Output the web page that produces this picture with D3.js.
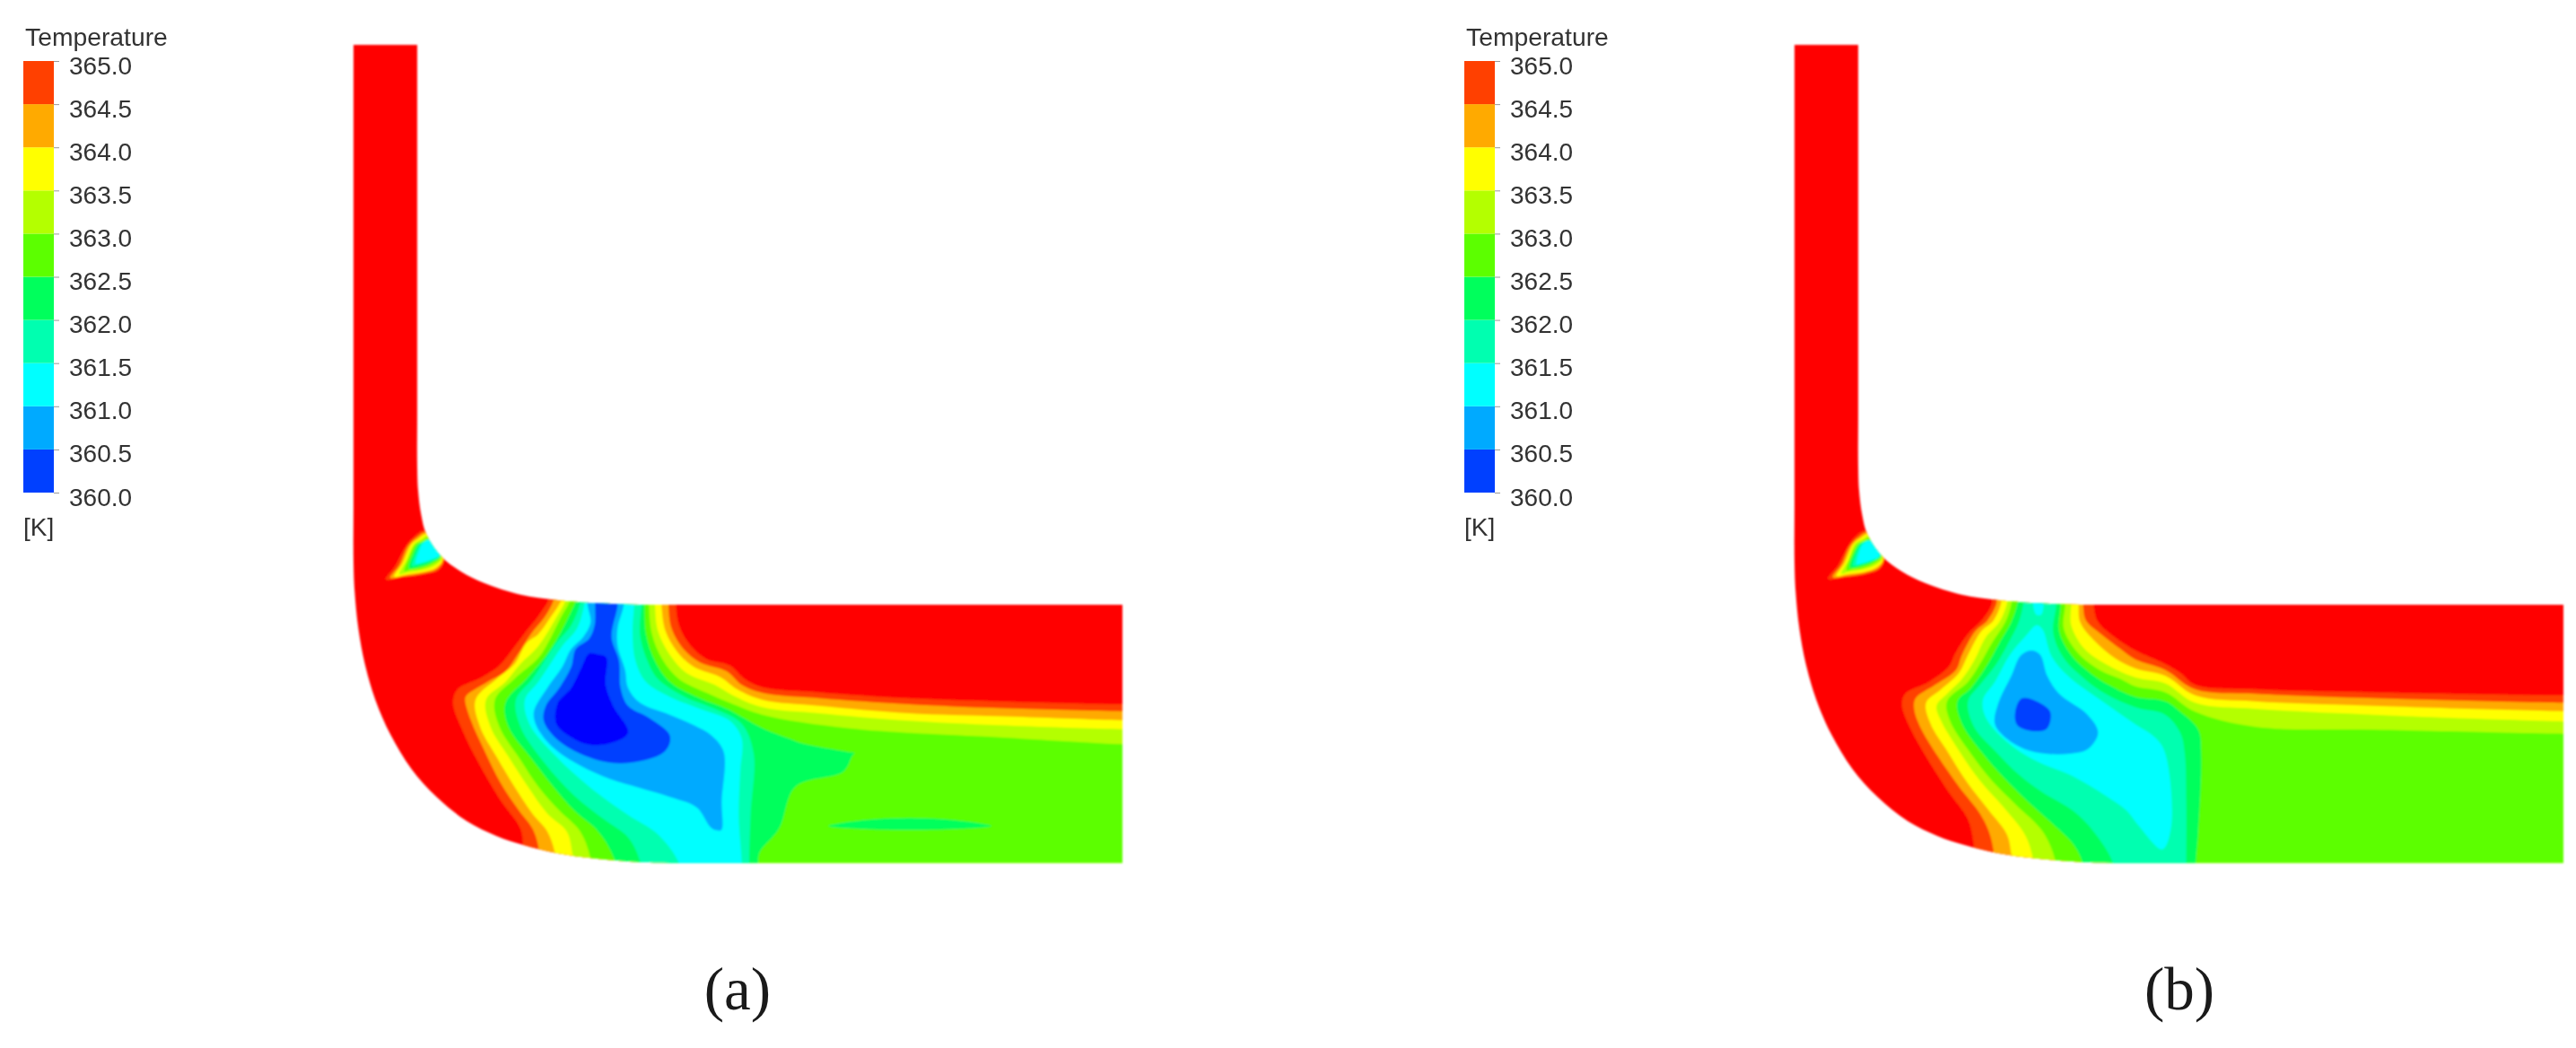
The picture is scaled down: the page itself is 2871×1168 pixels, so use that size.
<!DOCTYPE html>
<html>
<head>
<meta charset="utf-8">
<script src="https://cdnjs.cloudflare.com/ajax/libs/d3/7.8.5/d3.min.js"></script>
<style>
    body { margin: 0; background: #fff; }
    svg { display: block; }
</style>
</head>
<body>
<svg width="2871" height="1168"></svg>
<script>
// legend
var legendTicks = [360, 360.5, 361, 361.5, 362, 362.5, 363, 363.5, 364, 364.5, 365];
var legendColors = ["#0040ff", "#00aaff", "#00ffff", "#00ffb0", "#00ff5c", "#5cff00", "#b4ff00", "#ffff00", "#ffaa00", "#ff4000"];
var hotColor = "#ff0000";
var coldColor = "#0000ff";
var captions = ["(a)", "(b)"];

// duct walls, mesh units
var outerWall = [[42,-1530],[42,0],[42,200],[46,300],[58,420],[80,540],[115,660],[165,775],[235,890],[320,985],[420,1065],[520,1115],[610,1145],[720,1172],[850,1190],[1000,1202],[1130,1205],[1400,1205],[2613,1205]];
var innerWall = [[255,-1530],[255,-300],[255,-120],[258,-40],[268,40],[285,105],[335,180],[400,230],[480,270],[600,308],[720,326],[850,337],[1000,342],[1130,342],[2613,342]];

// case (a): outline of the region below each temperature
var a365 = [[700,300],[695,325],[660,380],[620,430],[575,490],[530,545],[470,585],[390,625],[375,670],[410,770],[460,870],[530,990],[600,1090],[610,1145],[625,1300],[2700,1300],[2700,675],[2613,675],[2200,665],[1900,655],[1600,635],[1410,618],[1350,590],[1300,545],[1225,525],[1170,480],[1130,410],[1120,345],[1120,300]];
var a3645 = [[715,300],[710,330],[680,385],[635,440],[590,510],[550,565],[490,600],[420,645],[415,660],[435,730],[480,830],[535,940],[595,1030],[640,1090],[660,1150],[672,1300],[2700,1300],[2700,698],[2613,698],[2200,688],[1900,675],[1600,655],[1410,637],[1340,610],[1290,565],[1200,535],[1145,490],[1105,420],[1095,345],[1095,300]];
var a364 = [[740,300],[735,330],[700,385],[660,440],[620,470],[580,540],[520,590],[450,660],[465,750],[520,850],[580,950],[640,1040],[690,1100],[715,1170],[730,1300],[2700,1300],[2700,728],[2613,728],[2200,715],[1900,705],[1600,680],[1410,660],[1325,625],[1270,585],[1180,550],[1125,500],[1085,430],[1072,345],[1072,300]];
var a3635 = [[755,300],[750,330],[720,385],[660,480],[600,540],[550,600],[485,660],[500,750],[560,850],[625,950],[690,1040],[755,1100],[775,1180],[790,1300],[2700,1300],[2700,758],[2613,758],[2200,745],[1900,730],[1600,705],[1410,685],[1310,645],[1250,610],[1155,570],[1100,510],[1060,430],[1050,345],[1050,300]];
var a363 = [[770,300],[765,330],[735,385],[700,455],[660,520],[580,590],[515,660],[530,750],[600,860],[660,950],[730,1030],[800,1100],[835,1190],[850,1300],[2700,1300],[2700,808],[2613,808],[2200,785],[1700,755],[1410,710],[1300,670],[1230,640],[1130,590],[1075,525],[1040,440],[1030,345],[1030,300]];
var a3625 = [[790,300],[785,330],[755,395],[720,460],[680,520],[620,590],[550,670],[560,750],[640,860],[710,950],[780,1030],[860,1100],[915,1195],[930,1300],[1395,1300],[1395,1205],[1400,1170],[1465,1090],[1520,950],[1680,900],[1708,850],[1716,838],[1700,835],[1540,805],[1500,790],[1410,755],[1290,690],[1200,655],[1100,600],[1050,530],[1020,440],[1015,345],[1015,300]];
var a3625b = [[1630,1082],[1750,1062],[1900,1055],[2050,1062],[2175,1082],[2050,1092],[1900,1095],[1750,1092]];
var a362 = [[805,300],[800,335],[770,410],[720,470],[680,530],[640,590],[585,660],[600,750],[680,870],[780,980],[880,1060],[960,1120],[1000,1200],[1015,1300],[1365,1300],[1365,1205],[1370,1040],[1380,840],[1340,740],[1250,690],[1150,650],[1060,590],[1025,530],[1000,440],[1005,345],[1005,300]];
var a3615 = [[820,300],[815,335],[790,420],[740,480],[700,540],[660,600],[615,660],[630,740],[720,850],[830,950],[960,1045],[1060,1110],[1130,1205],[1150,1300],[1340,1300],[1340,1205],[1330,1050],[1335,900],[1340,790],[1300,730],[1200,690],[1100,650],[1020,600],[985,530],[975,440],[980,345],[980,300]];
var a361 = [[825,300],[825,345],[835,400],[810,450],[770,490],[740,550],[690,620],[645,700],[655,750],[710,820],[800,880],[900,925],[1000,955],[1100,985],[1190,1020],[1235,1085],[1255,1096],[1272,1095],[1273,1000],[1280,835],[1240,780],[1180,745],[1100,710],[1000,670],[960,620],[950,560],[925,480],[925,420],[945,345],[945,300]];
var a3605 = [[850,300],[850,345],[848,410],[830,455],[785,490],[770,550],[730,620],[685,680],[678,730],[720,790],[800,840],[900,870],[1000,865],[1085,830],[1100,780],[1030,720],[960,680],[935,620],[930,530],[905,450],[925,345],[925,300]];
var a360 = [[830,505],[858,508],[887,518],[885,610],[910,680],[960,770],[900,805],[830,810],[770,785],[720,740],[725,670],[770,620],[805,550]];

// case (a): small pocket at the inner bend
var aSpot365 = [[150,257],[180,215],[215,150],[245,115],[280,95],[345,185],[328,225],[280,240],[210,250]];
var aSpot3645 = [[165,252],[195,210],[225,145],[252,118],[285,100],[342,188],[322,222],[278,236],[210,246]];
var aSpot364 = [[178,248],[205,205],[235,140],[258,122],[290,105],[340,190],[318,218],[275,232],[215,242]];
var aSpot3635 = [[195,240],[218,195],[243,140],[264,126],[295,110],[338,185],[312,212],[272,226],[222,235]];
var aSpot363 = [[212,230],[230,180],[250,140],[270,130],[300,115],[336,180],[308,205],[270,220],[230,226]];
var aSpot3625 = [[228,220],[242,170],[258,140],[275,132],[305,125],[334,178],[304,200],[268,214]];
var aSpot362 = [[238,212],[252,165],[265,140],[282,132],[310,130],[332,176],[300,196],[262,208]];
var aSpot3615 = [[250,205],[262,160],[275,135],[295,125],[330,175],[298,192],[262,203]];

// case (b)
var b365 = [[725,300],[720,340],[690,390],[640,440],[600,500],[575,550],[510,600],[430,640],[420,680],[450,760],[500,850],[570,960],[640,1060],[660,1145],[675,1300],[2700,1300],[2700,645],[2633,645],[2000,635],[1600,625],[1400,610],[1350,570],[1300,540],[1200,495],[1130,450],[1075,400],[1060,345],[1060,300]];
var b3645 = [[740,300],[735,340],[705,395],[665,430],[620,510],[600,560],[530,610],[465,655],[460,690],[480,750],[540,850],[610,950],[680,1040],[710,1100],[725,1160],[740,1300],[2700,1300],[2700,670],[2633,670],[2000,655],[1600,640],[1400,625],[1300,560],[1200,525],[1150,490],[1085,440],[1035,395],[1025,345],[1025,300]];
var b364 = [[755,300],[750,340],[725,395],[685,430],[640,510],[610,570],[550,625],[500,670],[515,740],[570,830],[640,940],[710,1030],[770,1110],[785,1175],[800,1300],[2700,1300],[2700,698],[2633,698],[2000,680],[1600,665],[1400,645],[1300,580],[1200,555],[1130,520],[1060,460],[1015,400],[1010,345],[1010,300]];
var b3635 = [[775,300],[770,340],[745,400],[700,450],[660,530],[620,590],[570,640],[535,680],[550,730],[610,830],[680,930],[760,1020],[830,1110],[855,1180],[870,1300],[2700,1300],[2700,732],[2633,732],[2000,710],[1600,690],[1400,670],[1300,605],[1200,585],[1100,540],[1030,490],[985,410],[985,345],[985,300]];
var b363 = [[790,300],[785,340],[765,400],[720,470],[680,540],[640,600],[570,665],[580,730],[650,840],[720,930],[800,1010],[890,1100],[930,1190],[945,1300],[2700,1300],[2700,773],[2633,773],[2000,760],[1600,750],[1400,700],[1300,635],[1200,615],[1150,590],[1080,560],[1005,500],[960,420],[965,345],[965,300]];
var b3625 = [[810,300],[805,340],[785,400],[745,470],[700,550],[650,620],[605,665],[620,740],[690,840],[760,920],[840,1000],[940,1090],[990,1140],[1020,1195],[1035,1300],[1402,1300],[1402,1205],[1410,1100],[1420,840],[1410,760],[1350,700],[1300,665],[1200,650],[1130,620],[1055,575],[985,510],[945,430],[950,345],[950,300]];
var b362 = [[830,300],[825,340],[810,400],[775,470],[735,540],[680,610],[640,665],[660,750],[730,830],[810,910],[890,970],[990,1030],[1060,1100],[1125,1205],[1140,1300],[1370,1300],[1370,1205],[1370,1000],[1365,840],[1350,770],[1300,710],[1200,685],[1100,640],[1030,590],[960,520],[925,435],[935,345],[935,300]];
var b3615 = [[870,410],[830,450],[780,510],[730,600],[690,660],[700,720],[770,800],[860,860],[990,915],[1100,980],[1170,1030],[1210,1080],[1290,1160],[1320,1080],[1300,840],[1270,790],[1190,735],[1090,665],[980,585],[920,515],[890,425]];
var b3615b = [[860,330],[890,330],[885,375],[868,375]];
var b361 = [[855,495],[882,510],[905,580],[945,640],[1040,710],[1075,770],[1040,825],[980,840],[900,840],[830,825],[770,790],[730,740],[742,670],[785,580],[818,510]];
var b3605 = [[820,655],[870,665],[915,700],[905,755],[860,765],[805,745],[798,700]];

var bSpot365 = [[172,255],[205,212],[238,148],[265,113],[300,95],[360,185],[345,222],[300,240],[232,250]];
var bSpot3645 = [[188,250],[217,208],[247,143],[274,116],[305,100],[358,188],[340,220],[296,236],[232,246]];
var bSpot364 = [[200,246],[227,203],[257,138],[280,120],[310,105],[356,190],[336,216],[293,232],[237,240]];
var bSpot3635 = [[217,238],[240,193],[262,138],[286,124],[315,110],[354,185],[330,210],[290,224],[244,232]];
var bSpot363 = [[234,228],[250,178],[272,138],[292,128],[320,115],[352,180],[326,203],[288,218],[250,224]];
var bSpot3625 = [[246,218],[260,168],[278,138],[296,130],[325,125],[350,178],[322,198],[284,212]];
var bSpot362 = [[256,212],[268,165],[284,138],[302,130],[330,130],[348,176],[316,196],[278,208]];
var bSpot3615 = [[268,208],[276,165],[290,138],[310,128],[345,176],[312,195],[276,206]];

// warmest level first, every colder band is painted over the last one
var bandsA = [
    [a365, aSpot365], [a3645, aSpot3645], [a364, aSpot364], [a3635, aSpot3635], [a363, aSpot363],
    [a3625, a3625b, aSpot3625], [a362, aSpot362], [a3615, aSpot3615], [a361], [a3605], [a360]
];
var bandsB = [
    [b365, bSpot365], [b3645, bSpot3645], [b364, bSpot364], [b3635, bSpot3635], [b363, bSpot363],
    [b3625, bSpot3625], [b362, bSpot362], [b3615, b3615b, bSpot3615], [b361], [b3605], []
];

var svg = d3.select("svg");
var defs = svg.append("defs");
defs.append("filter").attr("id", "soft").attr("x", "-5%").attr("y", "-5%").attr("width", "110%").attr("height", "110%")
    .append("feGaussianBlur").attr("stdDeviation", 1);
defs.append("filter").attr("id", "softText").attr("x", "-5%").attr("y", "-5%").attr("width", "110%").attr("height", "110%")
    .append("feGaussianBlur").attr("stdDeviation", 0.5);

var bandColors = legendColors.slice().reverse().concat([coldColor]);
var yField = d3.scaleLinear().domain([0, 1320]).range([560, 1000]);

function drawPanel(id, legendX, fieldLeft, wallLeft, bands, caption, captionX) {
    var xField = d3.scaleLinear().domain([0, 1500]).range([fieldLeft, fieldLeft + 500]);
    var xWall = d3.scaleLinear().domain([0, 1500]).range([wallLeft, wallLeft + 500]);

    var ring = d3.line()
        .x(function(d) { return xField(d[0]); })
        .y(function(d) { return yField(d[1]); })
        .curve(d3.curveCatmullRomClosed.alpha(0.5));
    var wall = d3.line()
        .x(function(d) { return xWall(d[0]); })
        .y(function(d) { return yField(d[1]); })
        .curve(d3.curveCatmullRom.alpha(0.5));

    var ductPath = wall(outerWall) + "L" + wall(innerWall.slice().reverse()).slice(1) + "Z";

    defs.append("clipPath").attr("id", "duct" + id).append("path").attr("d", ductPath);

    var soft = svg.append("g").attr("filter", "url(#soft)");
    soft.append("path").attr("d", ductPath).attr("fill", hotColor);

    var field = soft.append("g").attr("clip-path", "url(#duct" + id + ")");
    bands.forEach(function(rings, i) {
        field.selectAll(null)
            .data(rings)
            .enter().append("path")
            .attr("d", ring)
            .attr("fill", bandColors[i]);
    });

    // legend
    var yLegend = d3.scaleLinear().domain([360, 365]).range([549, 68]);
    var legend = svg.append("g").attr("filter", "url(#softText)");
    legend.selectAll("rect")
        .data(legendColors)
        .enter().append("rect")
        .attr("x", legendX)
        .attr("width", 34)
        .attr("y", function(d, i) { return yLegend(legendTicks[i + 1]); })
        .attr("height", function(d, i) { return yLegend(legendTicks[i]) - yLegend(legendTicks[i + 1]); })
        .attr("fill", function(d) { return d; });

    var axis = d3.axisRight(yLegend)
        .tickValues(legendTicks)
        .tickFormat(d3.format(".1f"))
        .tickSize(6)
        .tickPadding(11);
    var axisG = legend.append("g").attr("transform", "translate(" + (legendX + 34) + ",0)").call(axis);
    axisG.select(".domain").remove();
    axisG.selectAll("line").attr("stroke", "#999");
    axisG.selectAll("text")
        .attr("font-family", "Liberation Sans")
        .attr("font-size", 28)
        .attr("fill", "#333")
        .attr("dy", "0.5em");

    legend.append("text").attr("x", legendX + 2).attr("y", 51)
        .attr("font-family", "Liberation Sans").attr("font-size", 28.3).attr("fill", "#333")
        .text("Temperature");
    legend.append("text").attr("x", legendX).attr("y", 597)
        .attr("font-family", "Liberation Sans").attr("font-size", 28).attr("fill", "#333")
        .text("[K]");

    svg.append("text").attr("x", captionX).attr("y", 1125)
        .attr("font-family", "Liberation Serif").attr("font-size", 67).attr("fill", "#1a1a1a")
        .attr("text-anchor", "middle")
        .text(caption);
}

drawPanel("A", 26, 380, 380, bandsA, captions[0], 822);
drawPanel("B", 1632, 1980, 1986, bandsB, captions[1], 2429);
</script>
</body>
</html>
